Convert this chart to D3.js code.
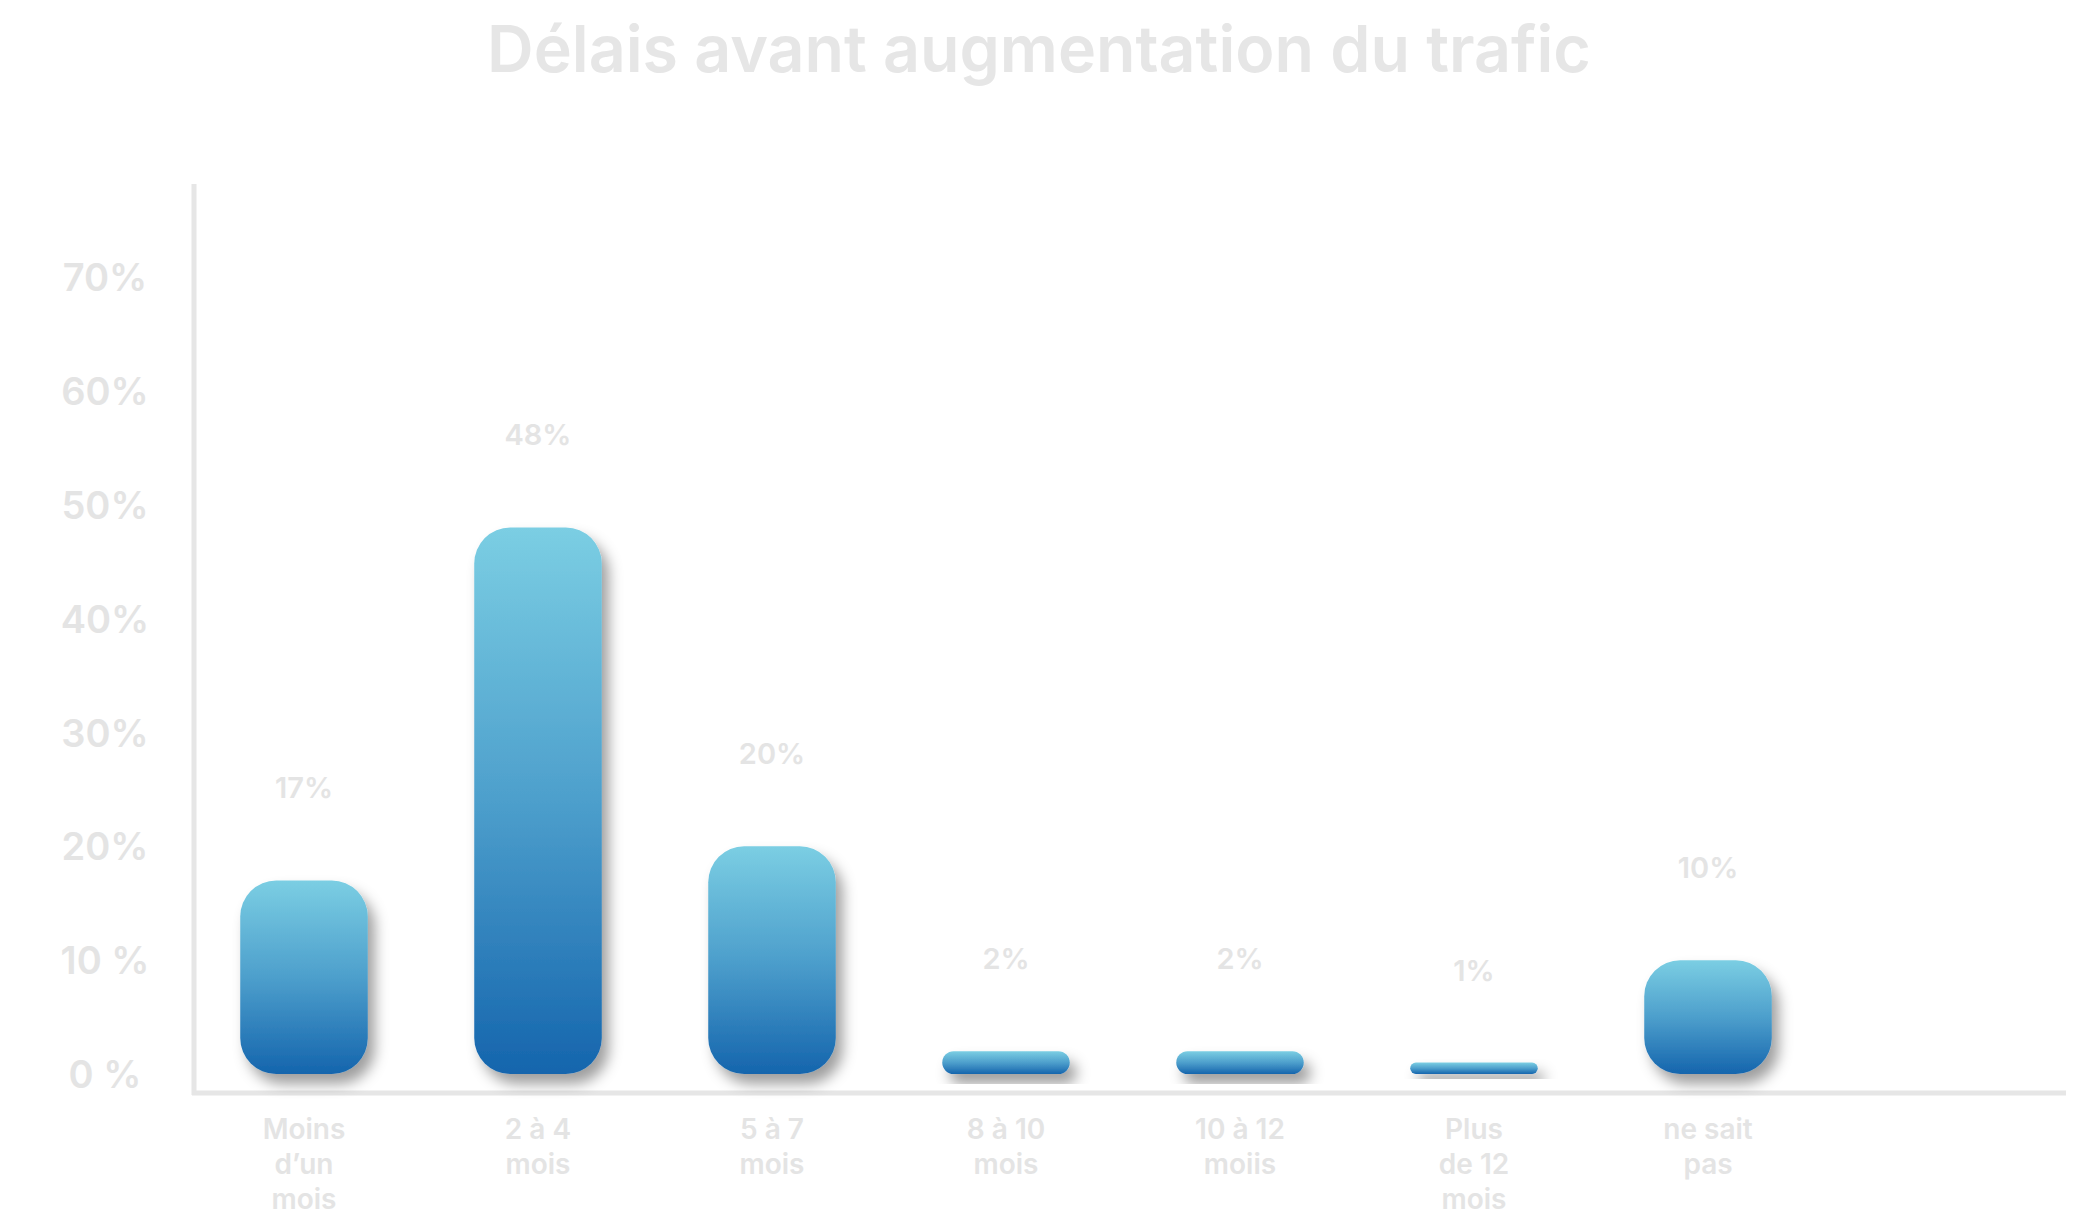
<!DOCTYPE html>
<html>
<head>
	<meta charset="utf-8">
	<script src="https://cdn.jsdelivr.net/npm/d3@7/dist/d3.min.js"></script>
	<style>
		html, body {
			padding: 0;
			margin: 0;
			background: #ffffff;
		}
		text {
			font-family: Inter, "Noto Sans", sans-serif;
			font-weight: 600;
			fill: #e4e4e4;
		}
	</style>
</head>
<body>
	<script>
		var width = 2083,
			height = 1225;

		// data
		var title = "Délais avant augmentation du trafic";
		var categories = ["Moins\nd’un\nmois", "2 à 4\nmois", "5 à 7\nmois", "8 à 10\nmois", "10 à 12\nmoiis", "Plus\nde 12\nmois", "ne sait\npas"];
		var values = [17, 48, 20, 2, 2, 1, 10];
		var valueLabels = ["17%", "48%", "20%", "2%", "2%", "1%", "10%"];
		var yTicks = [0, 10, 20, 30, 40, 50, 60, 70];
		var yTickLabels = ["0 %", "10 %", "20%", "30%", "40%", "50%", "60%", "70%"];

		var svg = d3.select('body').append('svg')
			.attr('width', width)
			.attr('height', height);

		var defs = svg.append('defs');

		var grad = defs.append('linearGradient')
			.attr('id', 'barGrad')
			.attr('x1', 0).attr('y1', 0)
			.attr('x2', 0).attr('y2', 1);
		grad.append('stop').attr('offset', '0%').attr('stop-color', '#7bcee3');
		grad.append('stop').attr('offset', '50%').attr('stop-color', '#4d9fcc');
		grad.append('stop').attr('offset', '100%').attr('stop-color', '#1565ad');

		var shadow = defs.append('filter')
			.attr('id', 'shadow')
			.attr('x', '-30%').attr('y', '-30%')
			.attr('width', '170%').attr('height', '170%');
		shadow.append('feDropShadow')
			.attr('dx', 7).attr('dy', 10)
			.attr('stdDeviation', 7)
			.attr('flood-color', '#000')
			.attr('flood-opacity', 0.38);

		// scales
		var step = 234;
		var x0 = 304;
		var x = d3.scaleBand()
			.domain(categories)
			.range([x0 - step / 2, x0 - step / 2 + step * categories.length])
			.paddingInner(0.455)
			.paddingOuter(0.2275);

		var y = d3.scaleLinear()
			.domain([0, 70])
			.range([1074, 277]);

		// title
		var t = svg.append('text')
			.attr('x', 1039)
			.attr('y', 72)
			.attr('text-anchor', 'middle')
			.style('font-size', '60px')
			.style('fill', '#e6e6e6')
			.text(title);
		// fit title to the width seen in the picture
		var tw = t.node().getComputedTextLength();
		t.style('font-size', (60 * 1104 / tw) + 'px');

		// axis lines
		svg.append('line')
			.attr('x1', 194).attr('y1', 184)
			.attr('x2', 194).attr('y2', 1095)
			.style('stroke', '#e6e6e6')
			.style('stroke-width', 5);
		svg.append('line')
			.attr('x1', 192).attr('y1', 1093)
			.attr('x2', 2066).attr('y2', 1093)
			.style('stroke', '#e6e6e6')
			.style('stroke-width', 5);

		// y tick labels
		var yAxis = svg.append('g')
			.attr('transform', 'translate(105,0)')
			.call(d3.axisLeft(y)
				.tickValues(yTicks)
				.tickSize(0)
				.tickPadding(0)
				.tickFormat(function (d, i) { return yTickLabels[i]; }));
		yAxis.select('.domain').remove();
		yAxis.selectAll('text')
			.attr('text-anchor', 'middle')
			.attr('dy', '0.36em')
			.style('font-family', 'Inter, "Noto Sans", sans-serif')
			.style('font-size', '38px')
			.style('font-weight', 600)
			.style('fill', '#e4e4e4');

		// x labels
		var xAxis = svg.append('g')
			.attr('transform', 'translate(0,1115)')
			.call(d3.axisBottom(x).tickSize(0).tickPadding(0));
		xAxis.select('.domain').remove();
		xAxis.selectAll('text')
			.style('font-family', 'Inter, "Noto Sans", sans-serif')
			.style('font-size', '28px')
			.style('font-weight', 600)
			.style('fill', '#e4e4e4')
			.text(null)
			.attr('dy', null)
			.each(function (d) {
				var el = d3.select(this);
				d.split('\n').forEach(function (line, i) {
					el.append('tspan')
						.attr('x', 0)
						.attr('y', 24 + i * 35)
						.text(line);
				});
			});

		// bars
		svg.append('g')
			.selectAll('rect')
			.data(values)
			.enter().append('rect')
			.attr('x', function (d, i) { return x(categories[i]); })
			.attr('y', function (d) { return y(d); })
			.attr('width', x.bandwidth())
			.attr('height', function (d) { return y(0) - y(d); })
			.attr('rx', function (d) { return Math.min(36, (y(0) - y(d)) / 2); })
			.attr('fill', 'url(#barGrad)')
			.attr('filter', 'url(#shadow)');

		// value labels
		svg.append('g')
			.selectAll('text')
			.data(values)
			.enter().append('text')
			.attr('x', function (d, i) { return x(categories[i]) + x.bandwidth() / 2; })
			.attr('y', function (d) { return y(d) - 82; })
			.attr('text-anchor', 'middle')
			.style('font-size', '29px')
			.style('fill', '#e4e4e4')
			.text(function (d, i) { return valueLabels[i]; });
	</script>
</body>
</html>
